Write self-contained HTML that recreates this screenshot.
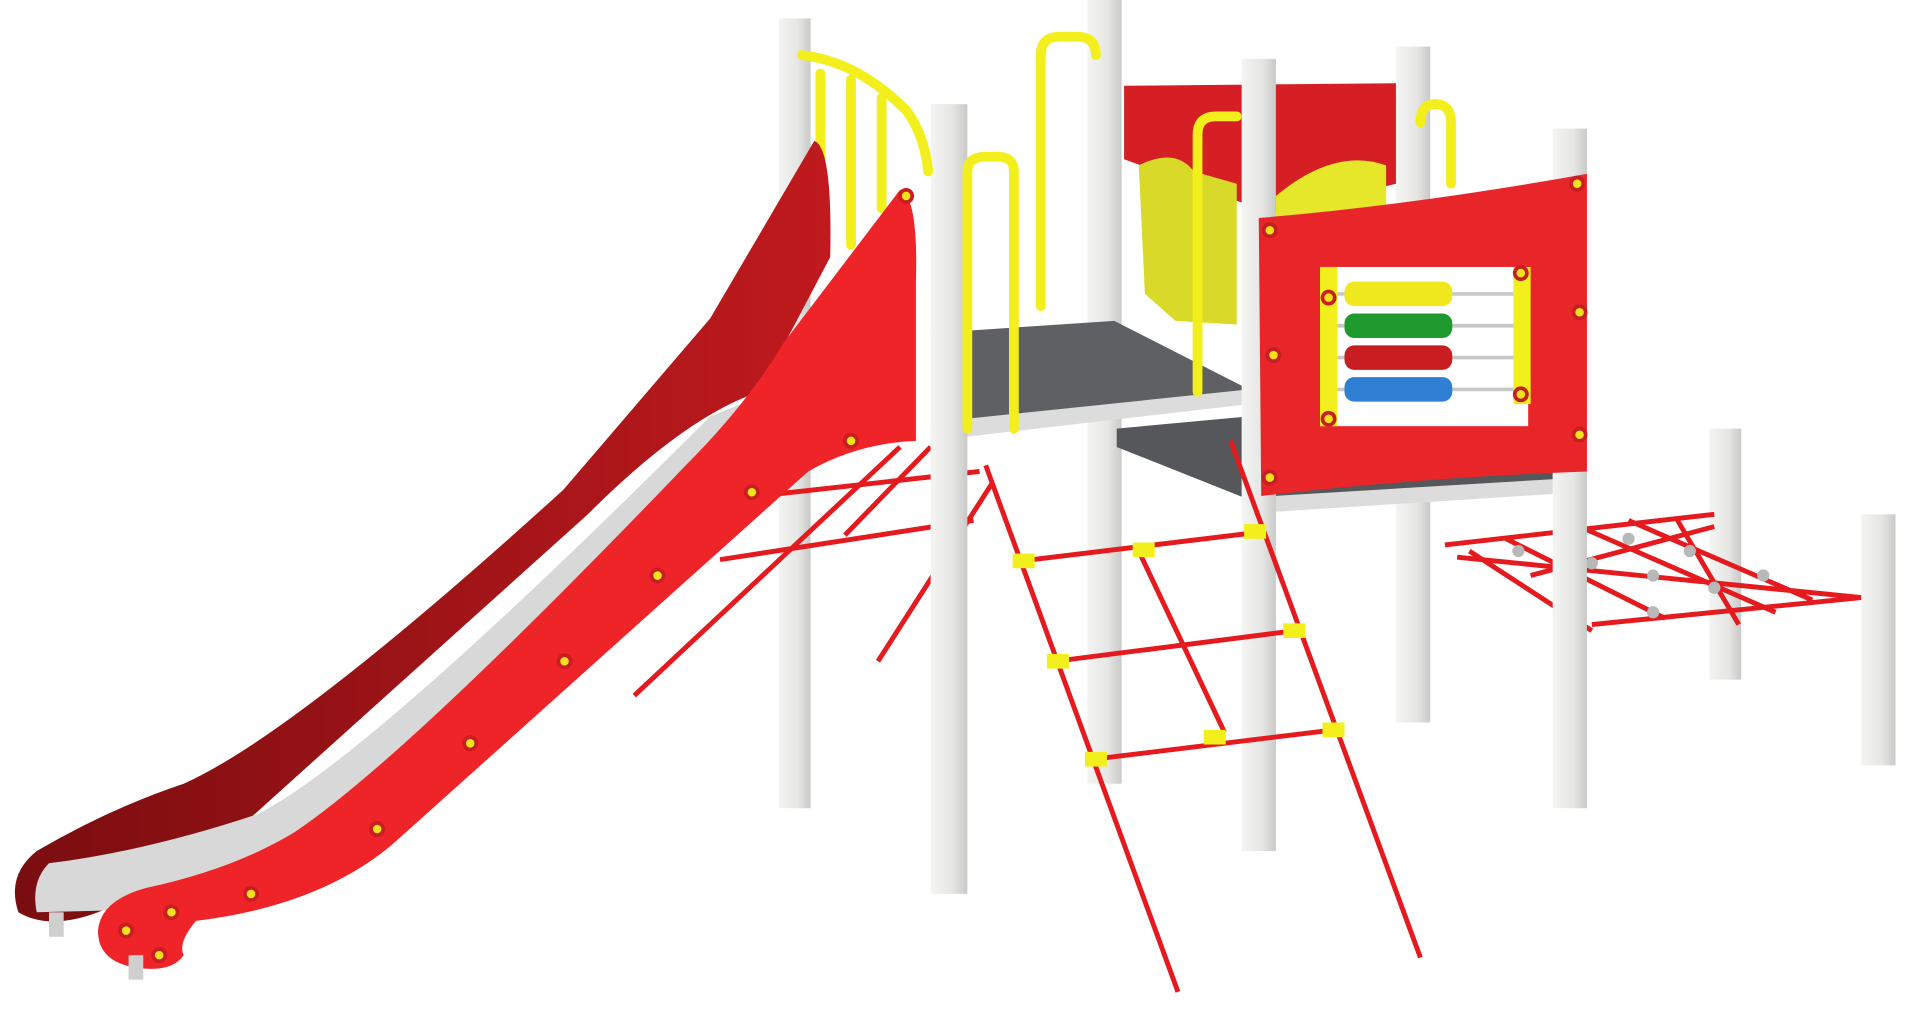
<!DOCTYPE html>
<html><head><meta charset="utf-8"><title>Playground set</title>
<style>html,body{margin:0;padding:0;background:#fff;width:1920px;height:1017px;overflow:hidden}svg{display:block}</style>
</head><body>
<svg width="1920" height="1017" viewBox="0 0 1568 830.5" xmlns="http://www.w3.org/2000/svg">
<defs>
<linearGradient id="post" x1="0" x2="1"><stop offset="0" stop-color="#f4f4f2"/><stop offset="0.6" stop-color="#e6e6e4"/><stop offset="1" stop-color="#c9c9c7"/></linearGradient>
<linearGradient id="darkred" x1="0" x2="1"><stop offset="0" stop-color="#7a0d10"/><stop offset="1" stop-color="#c01a1e"/></linearGradient>
</defs>
<!-- back posts -->
<g>
<rect x="888" y="0" width="28" height="640" fill="url(#post)"/>
<rect x="1140" y="38" width="28" height="552" fill="url(#post)"/>
<rect x="1396" y="350" width="26" height="205" fill="url(#post)"/>
<rect x="636" y="15" width="26" height="645" fill="url(#post)"/>
</g>
<!-- back red panel -->
<path d="M918 70 L1140 68 L1140 150 L1040 175 L918 130 Z" fill="#d51f24"/>
<path d="M930 135 Q960 120 975 140 L1010 150 L1010 265 L960 262 L935 240 Z" fill="#d9d92a"/>
<path d="M1042 160 Q1090 120 1132 135 L1132 170 L1042 178 Z" fill="#e6e62a"/>
<!-- platforms -->
<path d="M760 272 L910 262 L1020 318 L780 355 Z" fill="#5e6064"/>
<path d="M760 345 L1020 318 L1020 330 L760 360 Z" fill="#dcdcdc"/>
<path d="M912 350 L1020 340 L1030 400 L1270 385 L1270 395 L1030 412 L912 365 Z" fill="#55575a"/>
<path d="M1040 405 L1290 390 L1290 402 L1040 418 Z" fill="#dcdcdc"/>
<!-- cargo net -->
<g stroke="#e51a1f" stroke-width="4" fill="none">
<path d="M1180 445 L1400 420 M1190 455 L1520 488 M1250 470 L1400 430 M1300 510 L1520 488 M1290 430 L1450 500 M1230 440 L1360 505 M1330 425 L1480 490 M1200 450 L1300 515 M1370 425 L1420 510"/>
</g>
<g fill="#b8b8b8">
<circle cx="1240" cy="450" r="5"/><circle cx="1300" cy="460" r="5"/><circle cx="1350" cy="470" r="5"/><circle cx="1400" cy="480" r="5"/><circle cx="1330" cy="440" r="5"/><circle cx="1380" cy="450" r="5"/><circle cx="1290" cy="490" r="5"/><circle cx="1350" cy="500" r="5"/><circle cx="1440" cy="470" r="5"/>
</g>
<!-- left rope ladder -->
<g stroke="#e51a1f" stroke-width="4" fill="none">
<line x1="735" y1="365" x2="518" y2="568"/>
<line x1="810" y1="395" x2="717" y2="540"/>
<line x1="588" y1="457" x2="795" y2="425"/>
<line x1="620" y1="405" x2="800" y2="385"/>
<line x1="690" y1="437" x2="760" y2="365"/>
</g>
<!-- front posts -->
<g>
<rect x="760" y="85" width="30" height="645" fill="url(#post)"/>
<rect x="1014" y="48" width="28" height="647" fill="url(#post)"/>
<rect x="1268" y="105" width="28" height="555" fill="url(#post)"/>
<rect x="1520" y="420" width="28" height="205" fill="url(#post)"/>
</g>
<!-- yellow handrails -->
<g stroke="#f2ef1c" stroke-width="8" fill="none" stroke-linecap="round">
<path d="M790 350 L790 140 Q790 128 805 128 L815 128 Q828 128 828 140 L828 350"/>
<path d="M850 250 L850 45 Q850 30 865 30 L880 30 Q895 30 895 45"/>
<path d="M655 45 Q700 50 740 90 Q755 110 758 140"/>
<path d="M670 60 L670 210 M695 65 L695 200 M720 80 L720 170"/>
<path d="M978 320 L978 110 Q978 95 993 95 L1010 95"/>
<path d="M1160 100 Q1160 85 1172 85 Q1185 85 1185 100 L1185 150"/>
</g>
<!-- right red panel -->
<g>
<path d="M1028 178 Q1150 168 1296 142 L1296 385 Q1160 390 1030 405 Z" fill="#e8262a"/>
<rect x="1078" y="218" width="170" height="130" fill="#fff"/>
<rect x="1078" y="218" width="14" height="130" fill="#f2ef1c"/>
<rect x="1236" y="218" width="14" height="112" fill="#f2ef1c"/>
<g stroke="#c8c8c8" stroke-width="3"><line x1="1092" y1="240" x2="1236" y2="240"/><line x1="1092" y1="266" x2="1236" y2="266"/><line x1="1092" y1="292" x2="1236" y2="292"/><line x1="1092" y1="318" x2="1236" y2="318"/></g>
<g>
<rect x="1098" y="230" width="88" height="20" rx="8" fill="#efe81e"/>
<rect x="1098" y="256" width="88" height="20" rx="8" fill="#1f9a2e"/>
<rect x="1098" y="282" width="88" height="20" rx="8" fill="#c81e22"/>
<rect x="1098" y="308" width="88" height="20" rx="8" fill="#2f7fd2"/>
</g>
</g>
<!-- slide -->
<g>
<path d="M665 115 Q680 120 678 210 L620 320 Q560 340 480 420 L180 690 Q120 730 80 745 Q40 760 15 745 Q5 715 30 695 Q90 660 150 640 Q240 600 460 400 L580 260 Z" fill="url(#darkred)"/>
<path d="M630 320 L740 300 L740 340 L660 380 L330 680 Q250 730 150 742 L30 745 Q25 720 40 705 Q120 695 210 665 Q300 620 580 340 Z" fill="#d8d8d8"/>
<path d="M735 155 Q750 160 748 230 L748 360 Q700 362 660 385 L320 690 Q260 740 160 752 Q145 770 150 780 Q140 795 110 790 Q80 785 80 760 Q82 735 120 725 Q190 710 240 680 Q330 620 560 380 Q610 330 640 280 Z" fill="#ef2428"/>
<rect x="40" y="745" width="12" height="20" fill="#cfcfcf"/>
<rect x="105" y="780" width="12" height="20" fill="#cfcfcf"/>
</g>
<!-- front rope ladder -->
<g>
<g stroke="#e51a1f" stroke-width="4" fill="none">
<line x1="805" y1="380" x2="962" y2="810"/>
<line x1="1005" y1="360" x2="1160" y2="782"/>
<line x1="835" y1="458" x2="1025" y2="435"/>
<line x1="862" y1="540" x2="1058" y2="515"/>
<line x1="893" y1="620" x2="1090" y2="596"/>
<line x1="930" y1="450" x2="1000" y2="598"/>
</g>
<g fill="#f2ef1c">
<rect x="827" y="452" width="18" height="12"/><rect x="1016" y="428" width="18" height="12"/>
<rect x="855" y="534" width="18" height="12"/><rect x="1048" y="509" width="18" height="12"/>
<rect x="886" y="614" width="18" height="12"/><rect x="1080" y="590" width="18" height="12"/>
<rect x="925" y="443" width="18" height="12"/><rect x="983" y="596" width="18" height="12"/>
</g>
</g>
<!-- bolts -->
<g fill="#f2e21c" stroke="#c81e22" stroke-width="3">
<circle cx="103" cy="760" r="5"/><circle cx="130" cy="780" r="5"/><circle cx="140" cy="745" r="5"/><circle cx="205" cy="730" r="5"/><circle cx="308" cy="677" r="5"/><circle cx="384" cy="607" r="5"/><circle cx="461" cy="540" r="5"/><circle cx="537" cy="470" r="5"/><circle cx="614" cy="402" r="5"/><circle cx="695" cy="360" r="5"/><circle cx="740" cy="160" r="5"/>
<circle cx="1037" cy="188" r="5"/><circle cx="1037" cy="390" r="5"/><circle cx="1288" cy="150" r="5"/><circle cx="1290" cy="355" r="5"/><circle cx="1085" cy="243" r="5"/><circle cx="1085" cy="342" r="5"/><circle cx="1242" cy="223" r="5"/><circle cx="1242" cy="322" r="5"/><circle cx="1040" cy="290" r="5"/><circle cx="1290" cy="255" r="5"/>
</g>
</svg>
</body></html>
